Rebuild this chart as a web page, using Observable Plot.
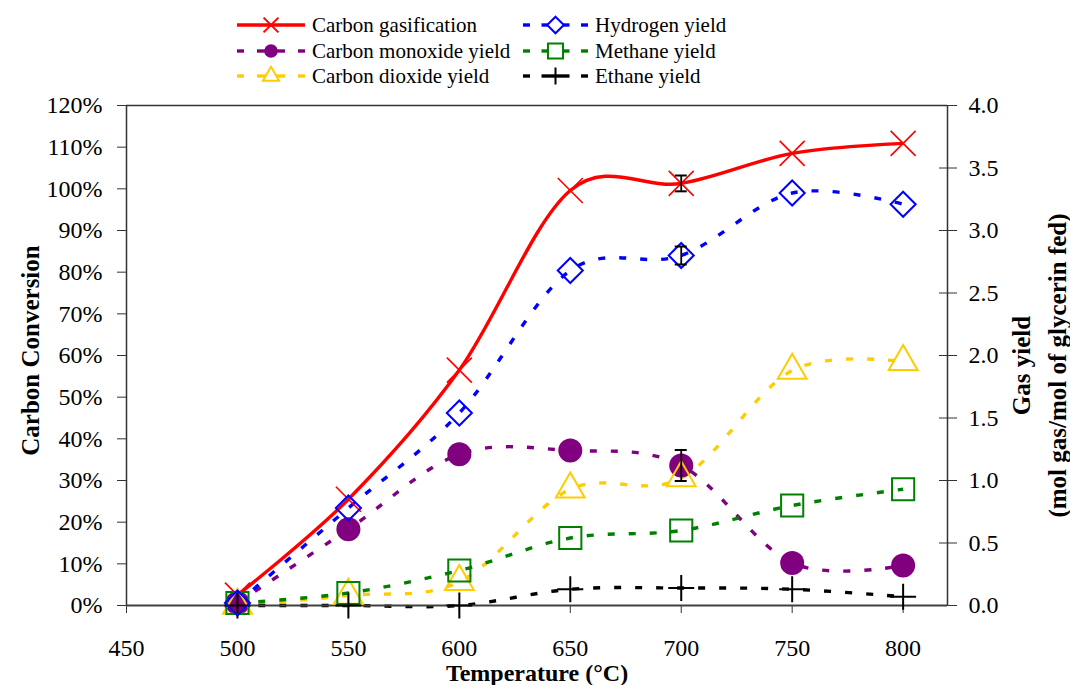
<!DOCTYPE html>
<html>
<head>
<meta charset="utf-8">
<script src="https://cdn.jsdelivr.net/npm/d3@7"></script>
<script src="https://cdn.jsdelivr.net/npm/@observablehq/plot@0.6"></script>
<style>
  html, body { margin: 0; padding: 0; background: #fff; }
  #legend, #chart svg { display: block; }
</style>
</head>
<body>
<svg id="legend" width="1070" height="90"></svg>
<div id="chart"></div>
<script>
// ---------- data ----------
const temperatures = [500, 550, 600, 650, 700, 750, 800];
const carbonGasification = [2.5, 25.5, 56.5, 99.6, 101.3, 108.5, 110.9];   // % (left axis)
const hydrogenYield      = [0.02, 0.78, 1.54, 2.68, 2.80, 3.30, 3.21];      // mol/mol (right axis)
const coYield            = [0.02, 0.61, 1.21, 1.24, 1.12, 0.34, 0.32];
const co2Yield           = [0.00, 0.08, 0.19, 0.93, 1.02, 1.88, 1.95];
const methaneYield       = [0.02, 0.10, 0.28, 0.54, 0.60, 0.80, 0.93];
const ethaneYield        = [0.00, 0.00, 0.00, 0.13, 0.14, 0.13, 0.07];
const errCarbonGasification = [0, 0, 0, 0, 1.9, 0, 0];
const errHydrogen           = [0, 0, 0, 0, 0.072, 0, 0];
const errCO                 = [0, 0, 0, 0, 0.124, 0, 0];

const seriesNames = ["Carbon gasification", "Hydrogen yield", "Carbon monoxide yield",
                     "Methane yield", "Carbon dioxide yield", "Ethane yield"];
const xTicks = [450, 500, 550, 600, 650, 700, 750, 800];
const leftTicks = [0, 10, 20, 30, 40, 50, 60, 70, 80, 90, 100, 110, 120];
const rightTicks = [0, 0.5, 1.0, 1.5, 2.0, 2.5, 3.0, 3.5, 4.0];

// right axis (0–4.0) maps onto left axis (0–120 %)
const RIGHT_TO_LEFT = 120 / 4;

// ---------- styles ----------
const styles = {
  "Carbon gasification":   {values: carbonGasification, axis: "left",  color: "#FF0000", symbol: "times",    fill: "none",    r: 11.4, sw: 1.6, dashed: false, err: errCarbonGasification},
  "Hydrogen yield":        {values: hydrogenYield,      axis: "right", color: "#0000FF", symbol: "diamond2", fill: "none",    r: 11.3, sw: 2,   dashed: true,  err: errHydrogen},
  "Carbon monoxide yield": {values: coYield,            axis: "right", color: "#800080", symbol: "circle",   fill: "#800080", r: 12,   sw: 0,   dashed: true,  err: errCO},
  "Methane yield":         {values: methaneYield,       axis: "right", color: "#008000", symbol: "square",   fill: "none",    r: 12.5, sw: 2,   dashed: true,  err: null},
  "Carbon dioxide yield":  {values: co2Yield,           axis: "right", color: "#FFCC00", symbol: "triangle", fill: "none",    r: 10.7, sw: 2,   dashed: true,  err: null},
  "Ethane yield":          {values: ethaneYield,        axis: "right", color: "#000000", symbol: "plus",     fill: "none",    r: 8.4,  sw: 2,   dashed: true,  err: null}
};

function rowsFor(name) {
  const s = styles[name];
  const k = s.axis === "left" ? 1 : RIGHT_TO_LEFT;
  return temperatures.map((t, i) => ({
    t, y: s.values[i] * k,
    lo: (s.values[i] - (s.err ? s.err[i] : 0)) * k,
    hi: (s.values[i] + (s.err ? s.err[i] : 0)) * k,
    hasErr: !!(s.err && s.err[i] > 0)
  }));
}

const drawOrder = ["Carbon gasification", "Carbon monoxide yield", "Carbon dioxide yield",
                   "Methane yield", "Ethane yield", "Hydrogen yield"];

const lineMarks = drawOrder.map(name => {
  const s = styles[name];
  return Plot.line(rowsFor(name), {
    x: "t", y: "y", stroke: s.color, strokeWidth: 3.4,
    strokeDasharray: s.dashed ? "7,14" : null, strokeLinecap: "butt",
    curve: "catmull-rom", tension: 0
  });
});

const dotMarks = drawOrder.map(name => {
  const s = styles[name];
  return Plot.dot(rowsFor(name), {
    x: "t", y: "y", symbol: () => s.symbol, r: s.r,
    stroke: s.sw ? s.color : "none", strokeWidth: s.sw, fill: s.fill
  });
});

const errRows = drawOrder.flatMap(name => rowsFor(name).filter(d => d.hasErr));

const FONT = "'Liberation Serif', 'Times New Roman', serif";

const chart = Plot.plot({
  width: 1070, height: 595,
  marginLeft: 126, marginRight: 123, marginTop: 15, marginBottom: 80,
  x: {domain: [450, 820]},
  y: {domain: [0, 120]},
  style: {fontFamily: FONT, fontSize: "24px", color: "#000", background: "#fff", overflow: "visible"},
  marks: [
    Plot.ruleY([120], {stroke: "#333", strokeWidth: 1.5}),
    Plot.ruleX([450], {stroke: "#333", strokeWidth: 1.5}),
    Plot.ruleX([820], {stroke: "#333", strokeWidth: 1.5}),
    Plot.axisX({ticks: xTicks, tickSize: 8, tickPadding: 25, label: null, tickFormat: d => String(d), stroke: "#333"}),
    Plot.axisY({ticks: leftTicks, tickSize: 9, tickPadding: 15, label: null, tickFormat: d => d + "%", stroke: "#333"}),
    Plot.axisY({ticks: rightTicks.map(v => v * RIGHT_TO_LEFT), anchor: "right", tickSize: 18, insetRight: 9,
                tickPadding: 12, label: null, tickFormat: d => (d / RIGHT_TO_LEFT).toFixed(1), stroke: "#333"}),
    ...lineMarks,
    Plot.ruleY([0], {stroke: "#404040", strokeWidth: 2.2}),
    ...dotMarks,
    Plot.ruleX(errRows, {x: "t", y1: "lo", y2: "hi", stroke: "#000", strokeWidth: 1.8}),
    Plot.ruleY(errRows, {x1: "t", x2: "t", y: "lo", stroke: "#000", strokeWidth: 2, insetLeft: -6, insetRight: -6}),
    Plot.ruleY(errRows, {x1: "t", x2: "t", y: "hi", stroke: "#000", strokeWidth: 2, insetLeft: -6, insetRight: -6}),
    Plot.text(["Carbon Conversion"], {frameAnchor: "left", dx: -96, dy: -5, rotate: -90,
                textAnchor: "middle", lineAnchor: "middle",
                fontWeight: "bold", fontSize: 25, fill: "#000"}),
    Plot.text(["Gas yield\n(mol gas/mol of glycerin fed)"], {frameAnchor: "right", dx: 89, dy: 10, rotate: -90,
                textAnchor: "middle", lineAnchor: "middle",
                fontWeight: "bold", fontSize: 25, lineHeight: 1.44, letterSpacing: "1px", fill: "#000"}),
    Plot.text(["Temperature (°C)"], {frameAnchor: "bottom", dy: 68, textAnchor: "middle", lineAnchor: "middle",
                fontWeight: "bold", fontSize: 24, letterSpacing: "1.5px", fill: "#000"})
  ]
});
document.getElementById("chart").appendChild(chart);

// ---------- legend ----------
const legend = d3.select("#legend");
const symbolMap = {times: d3.symbolTimes, diamond2: d3.symbolDiamond2, circle: d3.symbolCircle,
                   square: d3.symbolSquare, triangle: d3.symbolTriangle, plus: d3.symbolPlus};
const legendR = {"Carbon gasification": 6.8, "Hydrogen yield": 7.5, "Carbon monoxide yield": 6.8,
                 "Methane yield": 8.5, "Carbon dioxide yield": 6, "Ethane yield": 5.5};
const colX = [237, 523], textX = [312, 595], rowY = [25, 51, 76], sampleW = [68, 65];
seriesNames.forEach((name, i) => {
  const s = styles[name];
  const c = i % 2, r = Math.floor(i / 2);
  const x0 = colX[c], w = sampleW[c], y = rowY[r], cx = x0 + w / 2;
  const g = legend.append("g");
  const segs = s.dashed ? [[x0, x0 + 7], [cx - 14, cx + 14], [x0 + w - 7, x0 + w]] : [[x0, x0 + w]];
  segs.forEach(([a, b]) => g.append("line").attr("x1", a).attr("x2", b).attr("y1", y).attr("y2", y)
    .attr("stroke", s.color).attr("stroke-width", 3.4));
  const rr = legendR[name];
  g.append("path").attr("transform", `translate(${cx},${y})`)
    .attr("d", d3.symbol(symbolMap[s.symbol], rr * rr * Math.PI)())
    .attr("fill", s.fill === "none" ? "#fff" : s.fill)
    .attr("stroke", s.sw ? s.color : "none").attr("stroke-width", s.sw ? 2 : 0);
  g.append("text").attr("x", textX[c]).attr("y", y).attr("dy", "0.35em")
    .attr("font-family", FONT).attr("font-size", 21).attr("fill", "#000").text(name);
});
</script>
</body>
</html>
